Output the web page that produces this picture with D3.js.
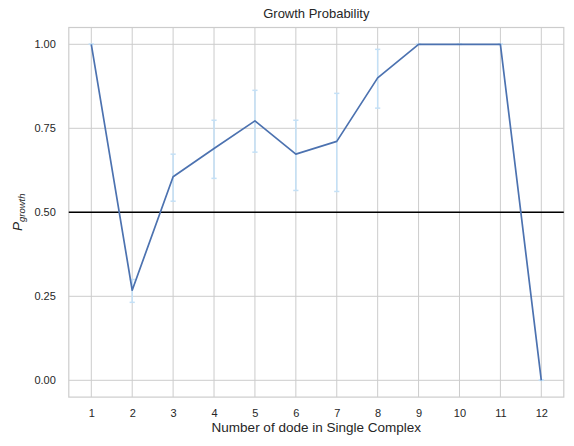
<!DOCTYPE html>
<html>
<head>
<meta charset="utf-8">
<script src="https://cdn.jsdelivr.net/npm/d3@7"></script>
<style>
    body { margin: 0; background: #fff; }
    text { font-family: "Liberation Sans", Arial, sans-serif; fill: #262626; }
</style>
</head>
<body>
<div id="chart"></div>
<script>
// values
const nodes = [1, 2, 3, 4, 5, 6, 7, 8, 9, 10, 11, 12];
const pGrowth = [1.0, 0.268, 0.606, 0.69, 0.772, 0.673, 0.711, 0.9, 1.0, 1.0, 1.0, 0.0];
const errLow = [1.0, 0.232, 0.533, 0.601, 0.679, 0.565, 0.562, 0.81, 1.0, 1.0, 1.0, 0.0];
const errHigh = [1.0, 0.30, 0.673, 0.774, 0.863, 0.774, 0.854, 0.985, 1.0, 1.0, 1.0, 0.0];
const yTicks = [0, 0.25, 0.5, 0.75, 1.0];
const threshold = 0.5;

const width = 574, height = 446;
let margin = { top: 27.5, right: 10, bottom: 49, left: 68.8 };
let plotW = 563.8 - margin.left,
    plotH = 397.1 - margin.top;

const data = nodes.map((n, i) => ({ n: n, p: pGrowth[i], lo: errLow[i], hi: errHigh[i] }));

let x = d3.scaleLinear()
    .domain([0.45, 12.55])
    .range([0, plotW]);

let y = d3.scaleLinear()
    .domain([-0.05, 1.05])
    .range([plotH, 0]);

let svg = d3.select("#chart")
    .append("svg")
    .attr("width", width)
    .attr("height", height);

let g = svg.append("g")
    .attr("transform", "translate(" + margin.left + "," + margin.top + ")");

// grid
g.selectAll(".vgrid")
    .data(nodes)
    .enter()
    .append("line")
    .attr("class", "vgrid")
    .attr("x1", d => x(d)).attr("x2", d => x(d))
    .attr("y1", 0).attr("y2", plotH)
    .attr("stroke", "#cccccc")
    .attr("stroke-width", 1);

g.selectAll(".hgrid")
    .data(yTicks)
    .enter()
    .append("line")
    .attr("class", "hgrid")
    .attr("x1", 0).attr("x2", plotW)
    .attr("y1", d => y(d)).attr("y2", d => y(d))
    .attr("stroke", "#cccccc")
    .attr("stroke-width", 1);

// axes (seaborn whitegrid style, no tick marks)
let xAxis = g.append("g")
    .attr("transform", "translate(0," + plotH + ")")
    .call(d3.axisBottom(x).tickValues(nodes).tickSize(0).tickPadding(12));
xAxis.select(".domain").remove();
xAxis.selectAll("text").style("font-size", "11px");

let yAxis = g.append("g")
    .call(d3.axisLeft(y).tickValues(yTicks).tickSize(0).tickPadding(13).tickFormat(d3.format(".2f")));
yAxis.select(".domain").remove();
yAxis.selectAll("text").style("font-size", "11px");

g.append("rect")
    .attr("x", 0).attr("y", 0)
    .attr("width", plotW).attr("height", plotH)
    .attr("fill", "none")
    .attr("stroke", "#cccccc")
    .attr("stroke-width", 1.2);

// error bars
const cap = 2.6;
let bars = g.selectAll(".err")
    .data(data)
    .enter()
    .append("g")
    .attr("class", "err")
    .attr("stroke", "#c4e0f6")
    .attr("stroke-width", 1.5);
bars.append("line")
    .attr("x1", d => x(d.n)).attr("x2", d => x(d.n))
    .attr("y1", d => y(d.lo)).attr("y2", d => y(d.hi));
bars.append("line")
    .attr("x1", d => x(d.n) - cap).attr("x2", d => x(d.n) + cap)
    .attr("y1", d => y(d.lo)).attr("y2", d => y(d.lo));
bars.append("line")
    .attr("x1", d => x(d.n) - cap).attr("x2", d => x(d.n) + cap)
    .attr("y1", d => y(d.hi)).attr("y2", d => y(d.hi));

// threshold line
g.append("line")
    .attr("x1", 0).attr("x2", plotW)
    .attr("y1", y(threshold)).attr("y2", y(threshold))
    .attr("stroke", "#000")
    .attr("stroke-width", 1.4);

// main line
g.append("path")
    .datum(data)
    .attr("fill", "none")
    .attr("stroke", "#4c72b0")
    .attr("stroke-width", 1.7)
    .attr("stroke-linejoin", "round")
    .attr("d", d3.line().x(d => x(d.n)).y(d => y(d.p)));

// labels
svg.append("text")
    .attr("x", margin.left + plotW / 2)
    .attr("y", 18)
    .attr("text-anchor", "middle")
    .style("font-size", "13px")
    .text("Growth Probability");

svg.append("text")
    .attr("x", margin.left + plotW / 2)
    .attr("y", 432)
    .attr("text-anchor", "middle")
    .style("font-size", "13.5px")
    .text("Number of dode in Single Complex");

let yl = svg.append("text")
    .attr("transform", "translate(22," + (margin.top + plotH / 2) + ") rotate(-90)")
    .attr("text-anchor", "middle")
    .style("font-size", "13.5px");
yl.append("tspan").style("font-style", "italic").text("P");
yl.append("tspan")
    .attr("dy", 3)
    .style("font-style", "italic")
    .style("font-size", "9.5px")
    .text("growth");
</script>
</body>
</html>
